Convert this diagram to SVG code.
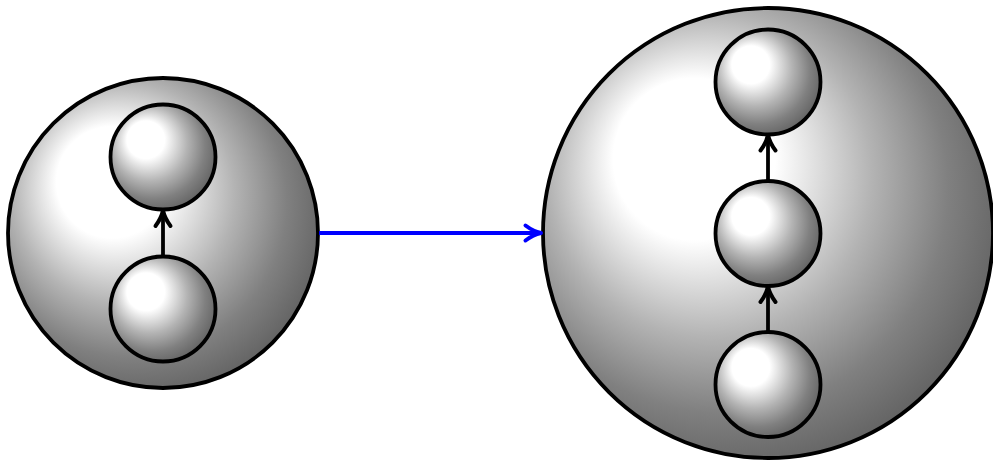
<svg xmlns="http://www.w3.org/2000/svg" width="993" height="464" viewBox="0 0 993 464">
<defs>
<radialGradient id="ball" cx="0.5" cy="0.5" r="1" fx="0.3" fy="0.3" gradientUnits="objectBoundingBox">
<stop offset="0" stop-color="#ffffff"/>
<stop offset="0.18" stop-color="#ffffff"/>
<stop offset="0.36" stop-color="#b3b3b3"/>
<stop offset="0.5" stop-color="#808080"/>
<stop offset="1" stop-color="#000000"/>
</radialGradient>
<marker id="headK" markerUnits="userSpaceOnUse" orient="auto" overflow="visible" refX="0" refY="0" markerWidth="20" markerHeight="20">
<path d="M -14,-7.5 C -8,-3 -3,-1 1.5,0 C -3,1 -8,3 -14,7.5" fill="none" stroke="#000" stroke-width="4" stroke-linecap="round" stroke-linejoin="round"/>
</marker>
<marker id="headB" markerUnits="userSpaceOnUse" orient="auto" overflow="visible" refX="0" refY="0" markerWidth="20" markerHeight="20">
<path d="M -14,-7.5 C -8,-3 -3,-1 1.5,0 C -3,1 -8,3 -14,7.5" fill="none" stroke="#0000ff" stroke-width="4" stroke-linecap="round" stroke-linejoin="round"/>
</marker>
</defs>
<style>
.ball{fill:url(#ball);stroke:#000;stroke-width:3.8}
.edge{fill:none;stroke:#000;stroke-width:3.8;marker-end:url(#headK)}
.edgeB{fill:none;stroke:#0000ff;stroke-width:3.8;marker-end:url(#headB)}
</style>
<g id="bigA"><circle class="ball" cx="163" cy="233" r="155"/></g>
<g id="a1"><circle class="ball" cx="163" cy="157" r="52.5"/></g>
<g id="a2"><circle class="ball" cx="163" cy="309" r="52.5"/></g>
<g id="bigB"><circle class="ball" cx="768" cy="233" r="225"/></g>
<g id="b1"><circle class="ball" cx="768" cy="82" r="52.5"/></g>
<g id="b2"><circle class="ball" cx="768" cy="233.5" r="52.5"/></g>
<g id="b3"><circle class="ball" cx="768" cy="384.5" r="52.5"/></g>
<g id="connectors">
<path class="edge" d="M163,256 L163,212"/>
<path class="edge" d="M768,180.5 L768,136.5"/>
<path class="edge" d="M768,331.5 L768,288"/>
<path class="edgeB" d="M319,233 L539.5,233"/>
</g>
</svg>
